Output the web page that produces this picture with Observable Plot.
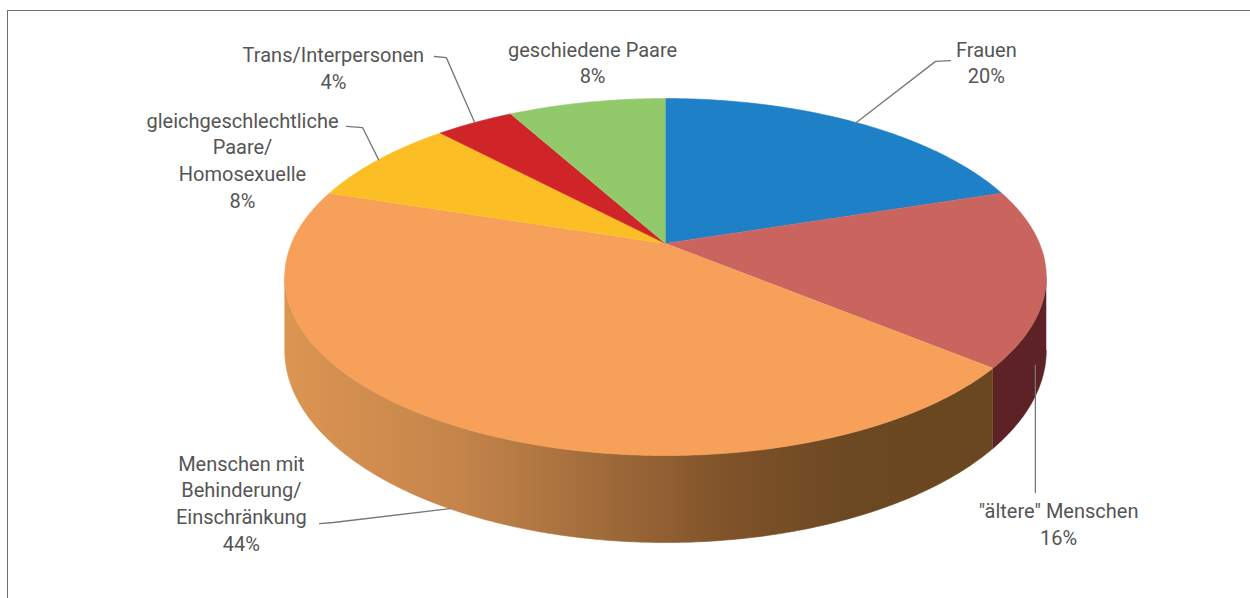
<!DOCTYPE html>
<html><head><meta charset="utf-8">
<script src="https://cdn.jsdelivr.net/npm/d3@7"></script>
<script src="https://cdn.jsdelivr.net/npm/@observablehq/plot@0.6"></script>
<style>
html,body{margin:0;padding:0;background:#fff;}
#wrap{position:relative;width:1250px;height:598px;overflow:hidden;}
#border{position:absolute;left:7px;top:10px;width:1300px;height:700px;border-top:1.5px solid #6e6e6e;border-left:1.5px solid #6e6e6e;pointer-events:none;}
svg{display:block;}
</style></head><body><div id="wrap"><div id="border"></div></div>
<script>
// ---- data ----
const categories = ["Frauen", "\"ältere\" Menschen", "Menschen mit Behinderung/Einschränkung", "gleichgeschlechtliche Paare/Homosexuelle", "Trans/Interpersonen", "geschiedene Paare"];
const shares = [20, 16, 44, 8, 4, 8];
const labelLines = ["Frauen", "\"ältere\" Menschen", "Menschen mit\nBehinderung/\nEinschränkung", "gleichgeschlechtliche\nPaare/\nHomosexuelle", "Trans/Interpersonen", "geschiedene Paare"];
const topColors = ["#1e80c6", "#c9655e", "#f6a05a", "#fbbf25", "#cf2528", "#92c96b"];
const sideColors = ["#10446a", "#5c2226", "url(#sideGrad)", "#8a6814", "#701416", "#4e6c39"];

// ---- layout (pie centre/radius in px, perspective) ----
const W = 1250, H = 598;
const cx = 665, cy = 243, R = 374;
const k = 0.1877, ratio = 172.2 / 374, depth = 70.7 / 374;
// label anchors: x centre, baseline of last line (pie units)
const labelPos = [[0.858, -0.428], [1.051, 0.805], [-1.134, 0.821], [-1.131, -0.096], [-0.888, -0.414], [-0.195, -0.428]];
// leader polylines (pie units) ending at slice mid-angle ("rim" top edge or "wall" bottom edge)
const leaders = [
  {i: 0, pts: [[0.762, -0.489], [0.722, -0.487]], end: "rim"},
  {i: 1, pts: [[0.989, 0.666], [0.989, 0.326]], end: null},
  {i: 2, pts: [[-0.925, 0.749], [-0.888, 0.746]], end: "wall"},
  {i: 3, pts: [[-0.853, -0.313], [-0.810, -0.310]], end: "rim"},
  {i: 4, pts: [[-0.618, -0.500], [-0.586, -0.497]], end: "rim"}
];

function proj(t, d) {
  const u = Math.sin(t), v = -Math.cos(t), s = 1 / (1 - k * v);
  return [u * s, v * s * ratio + d * s];
}
const arcs = d3.pie().sort(null).value(d => d)(shares);
const step = Math.PI / 360;

const topPts = [];
arcs.forEach((a, i) => {
  topPts.push({key: categories[i], x: 0, y: 0});
  const n = Math.max(2, Math.ceil((a.endAngle - a.startAngle) / step));
  for (let j = 0; j <= n; j++) {
    const t = a.startAngle + (a.endAngle - a.startAngle) * j / n;
    const [x, y] = proj(t, 0);
    topPts.push({key: categories[i], x, y});
  }
});

const tF = Math.acos(-k), tB = 2 * Math.PI - tF;
const walls = [];
arcs.forEach((a, i) => {
  const lo = Math.max(a.startAngle, tF), hi = Math.min(a.endAngle, tB);
  if (lo >= hi) return;
  const n = Math.max(2, Math.ceil((hi - lo) / step));
  const pts = [];
  for (let j = 0; j <= n; j++) { const t = lo + (hi - lo) * j / n; const [x, y] = proj(t, 0); pts.push({x, y}); }
  for (let j = n; j >= 0; j--) { const t = lo + (hi - lo) * j / n; const [x, y] = proj(t, depth); pts.push({x, y}); }
  walls.push({fill: sideColors[i], pts});
});

const leaderPts = [];
leaders.forEach(L => {
  L.pts.forEach(p => leaderPts.push({key: L.i, x: p[0], y: p[1]}));
  if (L.end) {
    const a = arcs[L.i], mid = (a.startAngle + a.endAngle) / 2;
    const [x, y] = proj(mid, L.end === "wall" ? depth : 0);
    leaderPts.push({key: L.i, x, y});
  }
});

const labels = categories.map((c, i) => ({x: labelPos[i][0], y: labelPos[i][1], text: labelLines[i] + "\n" + shares[i] + "%"}));

const chart = Plot.plot({
  width: W, height: H, margin: 0,
  style: {background: "transparent"},
  x: {domain: [-cx / R, (W - cx) / R], range: [0, W], axis: null},
  y: {domain: [-cy / R, (H - cy) / R], range: [0, H], axis: null},
  color: {domain: categories, range: topColors},
  marks: [
    ...walls.map(w => Plot.line(w.pts, {x: "x", y: "y", fill: w.fill, stroke: w.fill, strokeWidth: 0.6})),
    Plot.line(topPts, {x: "x", y: "y", z: "key", fill: "key", stroke: "key", strokeWidth: 0.6}),
    Plot.line(leaderPts, {x: "x", y: "y", z: "key", stroke: "#777", strokeWidth: 1.3}),
    Plot.text(labels, {x: "x", y: "y", text: "text", lineAnchor: "bottom", textAnchor: "middle", fontSize: 20, lineHeight: 1.33, fill: "#555", fontFamily: "Roboto, sans-serif"})
  ]
});

const ns = "http://www.w3.org/2000/svg";
const defs = document.createElementNS(ns, "defs");
const g = document.createElementNS(ns, "linearGradient");
g.setAttribute("id", "sideGrad");
g.setAttribute("x1", "0"); g.setAttribute("x2", "1"); g.setAttribute("y1", "0"); g.setAttribute("y2", "0");
[[0, "#dc9552"], [0.25, "#c4844a"], [0.4, "#a9713f"], [0.63, "#7f5229"], [0.8, "#6b4822"], [1, "#6a4721"]].forEach(([o, c]) => {
  const s = document.createElementNS(ns, "stop");
  s.setAttribute("offset", o); s.setAttribute("stop-color", c);
  g.appendChild(s);
});
defs.appendChild(g);
chart.insertBefore(defs, chart.firstChild);
document.getElementById("wrap").insertBefore(chart, document.getElementById("border"));
</script>
</body></html>
